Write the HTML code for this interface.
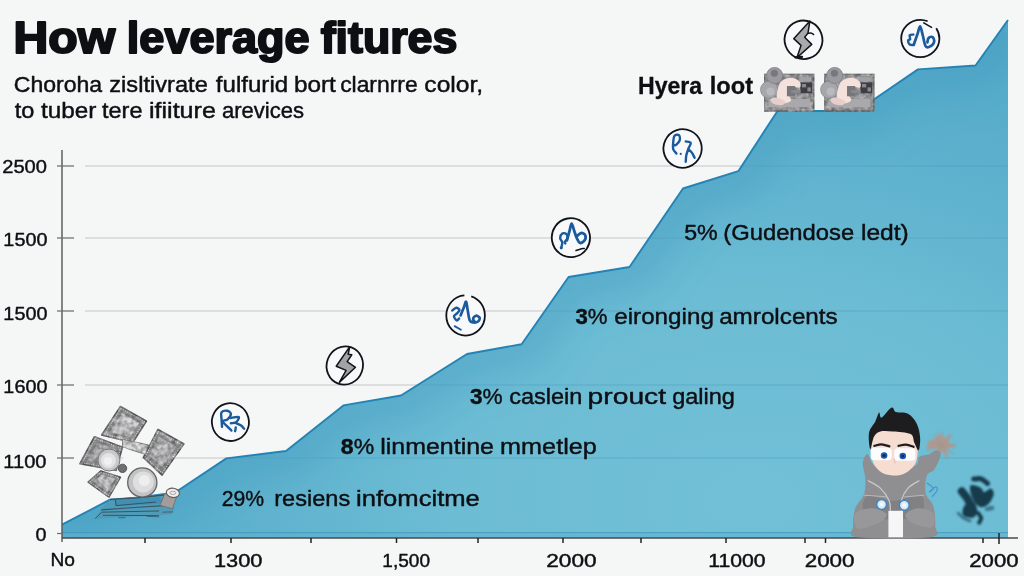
<!DOCTYPE html>
<html lang="en">
<head>
<meta charset="utf-8">
<title>How leverage fitures</title>
<style>
html,body{margin:0;padding:0;background:#f5f6f6;}
body{width:1024px;height:576px;overflow:hidden;font-family:"Liberation Sans", sans-serif;}
svg{display:block;font-family:"Liberation Sans", sans-serif;}
</style>
</head>
<body>
<svg width="1024" height="576" viewBox="0 0 1024 576">
<defs>
<radialGradient id="ga" gradientUnits="userSpaceOnUse" cx="750" cy="500" r="750" gradientTransform="translate(750 500) scale(1 0.693) translate(-750 -500)">
<stop offset="0" stop-color="#71c0d7"/>
<stop offset="0.4" stop-color="#6cbcd4"/>
<stop offset="0.7" stop-color="#5db1cd"/>
<stop offset="0.95" stop-color="#54aac9"/>
</radialGradient>
<clipPath id="ca"><path d="M62,524.7 L110,499.7 L140,497.5 L168,493.5 L178.5,490.2 L226.4,458.4 L286,451 L343.4,405.4 L401,395.5 L467,354 L521.6,344.2 L568.6,277 L629.5,267 L683,188.5 L738.3,171.2 L777.5,111 L857,111 L918,69.4 L975.5,65.5 L1008,20 L1008,538 L62,538 Z"/></clipPath>
<filter id="bl" x="-20%" y="-20%" width="140%" height="140%"><feGaussianBlur stdDeviation="18"/></filter>
<filter id="tx" x="-5%" y="-5%" width="110%" height="110%" color-interpolation-filters="sRGB">
<feTurbulence type="fractalNoise" baseFrequency="0.22" numOctaves="2" seed="7" result="n"/>
<feColorMatrix in="n" type="matrix" values="0 0 0 0 0  0 0 0 0 0  0 0 0 0 0  1.6 0 0 0 -0.45" result="a"/>
<feFlood flood-color="#ffffff" flood-opacity="0.55" result="w"/>
<feComposite in="w" in2="a" operator="in" result="wa"/>
<feComposite in="wa" in2="SourceGraphic" operator="in" result="hl"/>
<feColorMatrix in="n" type="matrix" values="0 0 0 0 0  0 0 0 0 0  0 0 0 0 0  0 1.8 0 0 -0.6" result="d"/>
<feFlood flood-color="#3a3a3c" flood-opacity="0.5" result="k"/>
<feComposite in="k" in2="d" operator="in" result="kd"/>
<feComposite in="kd" in2="SourceGraphic" operator="in" result="sh"/>
<feMerge><feMergeNode in="SourceGraphic"/><feMergeNode in="hl"/><feMergeNode in="sh"/></feMerge>
</filter>
<filter id="b2" x="-30%" y="-30%" width="160%" height="160%"><feGaussianBlur stdDeviation="1.1"/></filter>
<filter id="b3" x="-30%" y="-30%" width="160%" height="160%"><feGaussianBlur stdDeviation="0.85"/></filter>
<filter id="b1" x="-20%" y="-20%" width="140%" height="140%"><feGaussianBlur stdDeviation="0.6"/></filter>
</defs>
<rect width="1024" height="576" fill="#f5f6f6"/>

<line x1="85" y1="166" x2="1008" y2="166" stroke="#c6c6c7" stroke-width="1.1"/>
<line x1="85" y1="238" x2="1008" y2="238" stroke="#c6c6c7" stroke-width="1.1"/>
<line x1="85" y1="311" x2="1008" y2="311" stroke="#c6c6c7" stroke-width="1.1"/>
<line x1="85" y1="385" x2="1008" y2="385" stroke="#c6c6c7" stroke-width="1.1"/>
<line x1="85" y1="458" x2="1008" y2="458" stroke="#c6c6c7" stroke-width="1.1"/>
<path d="M62,524.7 L110,499.7 L140,497.5 L168,493.5 L178.5,490.2 L226.4,458.4 L286,451 L343.4,405.4 L401,395.5 L467,354 L521.6,344.2 L568.6,277 L629.5,267 L683,188.5 L738.3,171.2 L777.5,111 L857,111 L918,69.4 L975.5,65.5 L1008,20 L1008,538 L62,538 Z" fill="url(#ga)"/>
<g clip-path="url(#ca)"><path d="M62,524.7 L110,499.7 L140,497.5 L168,493.5 L178.5,490.2 L226.4,458.4 L286,451 L343.4,405.4 L401,395.5 L467,354 L521.6,344.2 L568.6,277 L629.5,267 L683,188.5 L738.3,171.2 L777.5,111 L857,111 L918,69.4 L975.5,65.5 L1008,20" fill="none" stroke="#3a93bb" stroke-width="56" stroke-opacity="0.3" filter="url(#bl)"/>
<line x1="85" y1="166" x2="1008" y2="166" stroke="#4d9fc0" stroke-opacity="0.55" stroke-width="1.2"/>
<line x1="85" y1="238" x2="1008" y2="238" stroke="#4d9fc0" stroke-opacity="0.55" stroke-width="1.2"/>
<line x1="85" y1="311" x2="1008" y2="311" stroke="#4d9fc0" stroke-opacity="0.55" stroke-width="1.2"/>
<line x1="85" y1="385" x2="1008" y2="385" stroke="#4d9fc0" stroke-opacity="0.55" stroke-width="1.2"/>
<line x1="85" y1="458" x2="1008" y2="458" stroke="#4d9fc0" stroke-opacity="0.55" stroke-width="1.2"/>
<line x1="62" y1="532.6" x2="1008" y2="532.6" stroke="#3f95b8" stroke-opacity="0.7" stroke-width="1.2"/>
<rect x="62" y="533.2" width="946" height="4.8" fill="#5eb1cf" opacity="0.5"/>
</g>
<path d="M62,524.7 L110,499.7 L140,497.5 L168,493.5 L178.5,490.2 L226.4,458.4 L286,451 L343.4,405.4 L401,395.5 L467,354 L521.6,344.2 L568.6,277 L629.5,267 L683,188.5 L738.3,171.2 L777.5,111 L857,111 L918,69.4 L975.5,65.5 L1008,20" fill="none" stroke="#2483b5" stroke-width="1.9" stroke-linejoin="round"/>
<line x1="62" y1="150" x2="62" y2="542" stroke="#555557" stroke-width="1.4"/>
<line x1="62" y1="538" x2="1018" y2="538" stroke="#4a4a4c" stroke-width="1.6"/>
<line x1="57" y1="166" x2="74" y2="166" stroke="#6a6a6c" stroke-width="1.2"/>
<line x1="57" y1="238" x2="74" y2="238" stroke="#6a6a6c" stroke-width="1.2"/>
<line x1="57" y1="311" x2="74" y2="311" stroke="#6a6a6c" stroke-width="1.2"/>
<line x1="57" y1="385" x2="74" y2="385" stroke="#6a6a6c" stroke-width="1.2"/>
<line x1="57" y1="458" x2="74" y2="458" stroke="#6a6a6c" stroke-width="1.2"/>
<line x1="57" y1="533.5" x2="62" y2="533.5" stroke="#6a6a6c" stroke-width="1.2"/>
<line x1="145" y1="538" x2="145" y2="543" stroke="#232325" stroke-width="1.5"/>
<line x1="231" y1="538" x2="231" y2="543" stroke="#232325" stroke-width="1.5"/>
<line x1="311" y1="538" x2="311" y2="543" stroke="#232325" stroke-width="1.5"/>
<line x1="396.5" y1="538" x2="396.5" y2="543" stroke="#232325" stroke-width="1.5"/>
<line x1="478" y1="538" x2="478" y2="543" stroke="#232325" stroke-width="1.5"/>
<line x1="563" y1="538" x2="563" y2="543" stroke="#232325" stroke-width="1.5"/>
<line x1="641" y1="538" x2="641" y2="543" stroke="#232325" stroke-width="1.5"/>
<line x1="726" y1="538" x2="726" y2="543" stroke="#232325" stroke-width="1.5"/>
<line x1="805" y1="538" x2="805" y2="543" stroke="#232325" stroke-width="1.5"/>
<line x1="825.5" y1="538" x2="825.5" y2="543" stroke="#232325" stroke-width="1.5"/>
<line x1="983" y1="538" x2="983" y2="543" stroke="#232325" stroke-width="1.5"/>
<line x1="999" y1="533" x2="999" y2="544" stroke="#232325" stroke-width="1.5"/>
<text y="52.7" font-size="43.5" font-weight="bold" fill="#0d0f13" stroke="#0d0f13" stroke-width="2.0" stroke-linejoin="round"><tspan x="13.57" textLength="101.66" lengthAdjust="spacingAndGlyphs">How</tspan> <tspan x="126.82" textLength="182.84" lengthAdjust="spacingAndGlyphs">leverage</tspan> <tspan x="320.7" textLength="136.68" lengthAdjust="spacingAndGlyphs">fitures</tspan></text>
<text y="92" font-size="21.6" font-weight="normal" fill="#0d0f13" stroke="#0d0f13" stroke-width="0.42" stroke-linejoin="round"><tspan x="13.77" textLength="88.44" lengthAdjust="spacingAndGlyphs">Choroha</tspan> <tspan x="109.3" textLength="98.48" lengthAdjust="spacingAndGlyphs">zisltivrate</tspan> <tspan x="215.89" textLength="72.25" lengthAdjust="spacingAndGlyphs">fulfurid</tspan> <tspan x="293.93" textLength="41.96" lengthAdjust="spacingAndGlyphs">bort</tspan> <tspan x="340.16" textLength="77.47" lengthAdjust="spacingAndGlyphs">clarnrre</tspan> <tspan x="424.35" textLength="58.81" lengthAdjust="spacingAndGlyphs">color,</tspan></text>
<text y="118" font-size="21.6" font-weight="normal" fill="#0d0f13" stroke="#0d0f13" stroke-width="0.42" stroke-linejoin="round"><tspan x="14.74" textLength="19.63" lengthAdjust="spacingAndGlyphs">to</tspan> <tspan x="41.0" textLength="55.4" lengthAdjust="spacingAndGlyphs">tuber</tspan> <tspan x="102.0" textLength="40.5" lengthAdjust="spacingAndGlyphs">tere</tspan> <tspan x="149.0" textLength="66.83" lengthAdjust="spacingAndGlyphs">ifiiture</tspan> <tspan x="221.91" textLength="82.18" lengthAdjust="spacingAndGlyphs">arevices</tspan></text>
<text y="93.75" font-size="23.6" font-weight="bold" fill="#0d0f13" stroke="#0d0f13" stroke-width="0.3" stroke-linejoin="round"><tspan x="638.04" textLength="64.17" lengthAdjust="spacingAndGlyphs">Hyera</tspan> <tspan x="709.82" textLength="43.19" lengthAdjust="spacingAndGlyphs">loot</tspan></text>
<text y="239.5" font-size="22.6" font-weight="normal" fill="#0d0f13" stroke="#0d0f13" stroke-width="0.42" stroke-linejoin="round"><tspan x="684.15" textLength="33.54" lengthAdjust="spacingAndGlyphs">5%</tspan> <tspan x="723.22" textLength="131.01" lengthAdjust="spacingAndGlyphs">(Gudendose</tspan> <tspan x="860.95" textLength="47.88" lengthAdjust="spacingAndGlyphs">ledt)</tspan></text>
<text y="324.3" font-size="22.6" font-weight="normal" fill="#0d0f13" stroke="#0d0f13" stroke-width="0.42" stroke-linejoin="round"><tspan x="575.5" textLength="32.07" lengthAdjust="spacingAndGlyphs"><tspan font-weight="bold">3</tspan>%</tspan> <tspan x="614.26" textLength="99.62" lengthAdjust="spacingAndGlyphs">eironging</tspan> <tspan x="719.15" textLength="118.56" lengthAdjust="spacingAndGlyphs">amrolcents</tspan></text>
<text y="403.75" font-size="22.6" font-weight="normal" fill="#0d0f13" stroke="#0d0f13" stroke-width="0.42" stroke-linejoin="round"><tspan x="470.0" textLength="32.67" lengthAdjust="spacingAndGlyphs"><tspan font-weight="bold">3</tspan>%</tspan> <tspan x="509.16" textLength="73.3" lengthAdjust="spacingAndGlyphs">caslein</tspan> <tspan x="587.64" textLength="78.41" lengthAdjust="spacingAndGlyphs">prouct</tspan> <tspan x="672.16" textLength="62.71" lengthAdjust="spacingAndGlyphs">galing</tspan></text>
<text y="453.75" font-size="22.6" font-weight="normal" fill="#0d0f13" stroke="#0d0f13" stroke-width="0.42" stroke-linejoin="round"><tspan x="340.87" textLength="33.34" lengthAdjust="spacingAndGlyphs"><tspan font-weight="bold">8</tspan>%</tspan> <tspan x="380.24" textLength="113.76" lengthAdjust="spacingAndGlyphs">linmentine</tspan> <tspan x="500.14" textLength="96.66" lengthAdjust="spacingAndGlyphs">mmetlep</tspan></text>
<text y="505.5" font-size="22.6" font-weight="normal" fill="#0d0f13" stroke="#0d0f13" stroke-width="0.42" stroke-linejoin="round"><tspan x="221.73" textLength="42.4" lengthAdjust="spacingAndGlyphs">29%</tspan> <tspan x="274.26" textLength="75.99" lengthAdjust="spacingAndGlyphs">resiens</tspan> <tspan x="356.06" textLength="123.83" lengthAdjust="spacingAndGlyphs">infomcitme</tspan></text>
<text y="173.3" font-size="18.6" font-weight="normal" fill="#0d0f13" stroke="#0d0f13" stroke-width="0.42" stroke-linejoin="round"><tspan x="2.23" textLength="44.78" lengthAdjust="spacingAndGlyphs">2500</tspan></text>
<text y="246.4" font-size="18.6" font-weight="normal" fill="#0d0f13" stroke="#0d0f13" stroke-width="0.42" stroke-linejoin="round"><tspan x="3.39" textLength="44.02" lengthAdjust="spacingAndGlyphs">1500</tspan></text>
<text y="319.8" font-size="18.6" font-weight="normal" fill="#0d0f13" stroke="#0d0f13" stroke-width="0.42" stroke-linejoin="round"><tspan x="3.39" textLength="44.02" lengthAdjust="spacingAndGlyphs">1500</tspan></text>
<text y="392.7" font-size="18.6" font-weight="normal" fill="#0d0f13" stroke="#0d0f13" stroke-width="0.42" stroke-linejoin="round"><tspan x="3.39" textLength="44.02" lengthAdjust="spacingAndGlyphs">1600</tspan></text>
<text y="467.6" font-size="18.6" font-weight="normal" fill="#0d0f13" stroke="#0d0f13" stroke-width="0.42" stroke-linejoin="round"><tspan x="3.32" textLength="43.16" lengthAdjust="spacingAndGlyphs">1100</tspan></text>
<text y="540.7" font-size="18.6" font-weight="normal" fill="#0d0f13" stroke="#0d0f13" stroke-width="0.42" stroke-linejoin="round"><tspan x="35.52" textLength="10.98" lengthAdjust="spacingAndGlyphs">0</tspan></text>
<text y="566.2" font-size="18" font-weight="normal" fill="#0d0f13" stroke="#0d0f13" stroke-width="0.42" stroke-linejoin="round"><tspan x="50.53" textLength="24.51" lengthAdjust="spacingAndGlyphs">No</tspan></text>
<text y="566.5" font-size="18" font-weight="normal" fill="#0d0f13" stroke="#0d0f13" stroke-width="0.42" stroke-linejoin="round"><tspan x="213.97" textLength="48.54" lengthAdjust="spacingAndGlyphs">1300</tspan> <tspan x="382.38" textLength="47.62" lengthAdjust="spacingAndGlyphs">1,500</tspan> <tspan x="546.25" textLength="50.34" lengthAdjust="spacingAndGlyphs">2000</tspan> <tspan x="708.19" textLength="57.35" lengthAdjust="spacingAndGlyphs">11000</tspan> <tspan x="804.71" textLength="49.81" lengthAdjust="spacingAndGlyphs">2000</tspan> <tspan x="969.28" textLength="49.28" lengthAdjust="spacingAndGlyphs">2000</tspan></text>
<ellipse cx="230.4" cy="422.1" rx="18.5" ry="18.9" fill="#f8f9fa" stroke="#11141b" stroke-width="1.8" transform="rotate(-15 230.4 422.1)"/>
<path d="M222.04,426.9 C221.95,425.60 221.61,421.51 221.52,419.08 C221.43,416.65 220.56,413.70 221.52,412.31 C222.48,410.92 225.69,410.49 227.25,410.75 C228.81,411.01 230.90,412.40 230.90,413.88 C230.90,415.36 228.64,418.38 227.25,419.60 C225.86,420.82 222.56,420.04 222.56,421.17 C222.56,422.30 225.77,424.82 227.25,426.38 C228.73,427.94 230.72,429.85 231.42,430.54" fill="none" stroke="#1b5a9c" stroke-width="2.4" stroke-linecap="round" stroke-linejoin="round"/>
<path d="M230.38,418.04 C231.77,417.87 237.76,416.31 238.71,417.00 C239.66,417.69 237.40,421.17 236.10,422.21 C234.80,423.25 231.77,423.08 230.90,423.25 M236.1,423.25 C236.88,423.60 239.45,424.43 240.79,425.33 C242.13,426.23 243.56,428.11 244.12,428.67 M235.79,427.42 L235.17,431.17" fill="none" stroke="#1b5a9c" stroke-width="2.4" stroke-linecap="round" stroke-linejoin="round"/>
<ellipse cx="344.8" cy="365.5" rx="18.1" ry="19.3" fill="#f8f9fa" stroke="#11141b" stroke-width="1.8" transform="rotate(20 344.8 365.5)"/>
<path d="M349.75,346.67 L336.21,366.25 L346.1,370.42 L339.33,382.4 L355.48,367.29 L347.15,361.56 L351.83,354.79 L348.19,354.27 Z" fill="#a3a3a5" stroke="#11141b" stroke-width="1.5" stroke-linecap="round" stroke-linejoin="round"/>
<ellipse cx="465.6" cy="315.5" rx="19.3" ry="20.1" fill="#f8f9fa" stroke="#11141b" stroke-width="1.8" stroke-dasharray="91 7 40 0"/>
<path d="M452.25,310.52 C452.91,310.05 455.00,307.80 456.21,307.71 C457.42,307.62 459.45,309.01 459.54,310.00 C459.63,310.99 457.67,312.61 456.73,313.65 C455.79,314.69 453.92,315.12 453.92,316.25 C453.92,317.38 455.86,320.04 456.73,320.42 C457.60,320.80 458.72,318.85 459.12,318.54" fill="none" stroke="#1b5a9c" stroke-width="2.4" stroke-linecap="round" stroke-linejoin="round"/>
<path d="M460.58,315.42 C461.15,314.00 463.10,309.17 464.02,306.88 C464.94,304.59 465.49,301.15 466.10,301.67 C466.71,302.19 467.06,306.88 467.67,310.00 C468.28,313.12 468.80,318.34 469.75,320.42 C470.70,322.50 472.01,322.33 473.40,322.50 C474.79,322.67 477.04,322.24 478.08,321.46 C479.12,320.68 480.00,318.76 479.65,317.81 C479.30,316.86 477.10,315.56 476.00,315.73 C474.90,315.90 473.25,317.81 473.08,318.85 C472.91,319.89 474.65,321.46 474.96,321.98" fill="none" stroke="#1b5a9c" stroke-width="2.7" stroke-linecap="round" stroke-linejoin="round"/>
<path d="M454.65,326.15 L460.9,329.79" fill="none" stroke="#1b5a9c" stroke-width="1.8" stroke-linecap="round" stroke-linejoin="round"/>
<ellipse cx="570.9" cy="237.7" rx="19.1" ry="19.5" fill="#f8f9fa" stroke="#11141b" stroke-width="1.8" transform="rotate(-10 570.9 237.7)"/>
<path d="M561.21,248.15 C561.38,247.19 562.42,244.07 562.25,242.42 C562.08,240.77 560.17,239.73 560.17,238.25 C560.17,236.77 561.21,234.25 562.25,233.56 C563.29,232.87 565.55,233.30 566.42,234.08 C567.29,234.86 567.72,236.95 567.46,238.25 C567.20,239.55 565.20,241.03 564.85,241.90 C564.50,242.77 565.29,243.20 565.38,243.46" fill="none" stroke="#1b5a9c" stroke-width="2.4" stroke-linecap="round" stroke-linejoin="round"/>
<path d="M566.94,240.33 C567.37,238.77 568.76,233.74 569.54,230.96 C570.32,228.18 570.84,223.67 571.62,223.67 C572.40,223.67 573.36,228.53 574.23,230.96 C575.10,233.39 575.88,236.25 576.83,238.25 C577.79,240.25 578.66,242.59 579.96,242.94 C581.26,243.29 583.78,241.63 584.65,240.33 C585.52,239.03 585.78,236.34 585.17,235.12 C584.56,233.91 582.39,232.87 581.00,233.04 C579.61,233.21 577.53,235.65 576.83,236.17" fill="none" stroke="#1b5a9c" stroke-width="2.8" stroke-linecap="round" stroke-linejoin="round"/>
<circle cx="561.21" cy="247.83" r="1.5" fill="#1b5a9c"/>
<path d="M576,250.54 C576.66,250.31 578.57,249.54 579.96,249.19 C581.35,248.84 583.60,248.58 584.33,248.46" fill="none" stroke="#11141b" stroke-width="1.5" stroke-linecap="round" stroke-linejoin="round"/>
<ellipse cx="682.6" cy="148.5" rx="19.1" ry="19.3" fill="#f8f9fa" stroke="#11141b" stroke-width="1.8" transform="rotate(25 682.6 148.5)"/>
<path d="M676.38,153.42 C675.86,152.72 673.77,151.16 673.25,149.25 C672.73,147.34 673.04,144.22 673.25,141.96 C673.46,139.70 673.54,136.84 674.50,135.71 C675.46,134.58 678.11,134.41 678.98,135.19 C679.85,135.97 680.14,138.84 679.71,140.40 C679.28,141.96 677.28,143.75 676.38,144.56 C675.48,145.38 674.64,145.17 674.29,145.29" fill="none" stroke="#1b5a9c" stroke-width="2.4" stroke-linecap="round" stroke-linejoin="round"/>
<path d="M685.75,141.44 C686.58,141.66 690.32,141.57 690.75,142.79 C691.18,144.00 689.10,146.61 688.35,148.73 C687.60,150.85 686.70,153.33 686.27,155.50 C685.84,157.67 685.84,160.71 685.75,161.75 M688.35,149.25 C688.96,149.86 690.96,151.48 692.00,152.90 C693.04,154.32 694.17,156.97 694.60,157.79" fill="none" stroke="#1b5a9c" stroke-width="2.4" stroke-linecap="round" stroke-linejoin="round"/>
<circle cx="680.75" cy="153.94" r="1.1" fill="#1b5a9c"/>
<ellipse cx="803.5" cy="39.8" rx="18.9" ry="19.3" fill="#f8f9fa" stroke="#11141b" stroke-width="1.8" transform="rotate(-20 803.5 39.8)"/>
<path d="M809.88,20.94 L793.73,38.65 L801.02,45.42 L796.85,57.71 L811.75,44.38 L804.67,37.29 L808,33.12 Z" fill="#a9a9ab" stroke="#11141b" stroke-width="1.5" stroke-linecap="round" stroke-linejoin="round"/>
<path d="M807.79,33.44 C808.31,33.35 809.95,32.73 810.92,32.92 C811.89,33.11 813.17,34.30 813.62,34.58" fill="none" stroke="#11141b" stroke-width="1.5" stroke-linecap="round" stroke-linejoin="round"/>
<path d="M795.29,57.4 L802.06,56.88" fill="none" stroke="#11141b" stroke-width="2.2" stroke-linecap="round" stroke-linejoin="round"/>
<ellipse cx="920.3" cy="38.5" rx="19.1" ry="18.7" fill="#f8f9fa" stroke="#11141b" stroke-width="1.8" stroke-dasharray="96 11 30 0"/>
<path d="M923.75,22.79 L931.56,27.38" fill="none" stroke="#11141b" stroke-width="1.5" stroke-linecap="round" stroke-linejoin="round"/>
<path d="M913.33,34.56 C912.72,34.68 910.21,34.51 909.69,35.29 C909.17,36.07 910.47,38.42 910.21,39.25 C909.95,40.08 908.21,39.42 908.12,40.29 C908.03,41.16 908.74,43.68 909.69,44.46 C910.65,45.24 913.16,44.89 913.85,44.98" fill="none" stroke="#1b5a9c" stroke-width="2.4" stroke-linecap="round" stroke-linejoin="round"/>
<path d="M913.85,44.46 C914.46,42.72 916.46,37.08 917.50,34.04 C918.54,31.00 919.23,26.06 920.10,26.23 C920.97,26.40 921.75,31.70 922.71,35.08 C923.67,38.46 924.44,44.72 925.83,46.54 C927.22,48.36 929.65,46.80 931.04,46.02 C932.43,45.24 933.91,43.33 934.17,41.85 C934.43,40.38 933.56,37.78 932.60,37.17 C931.64,36.56 929.31,37.34 928.44,38.21 C927.57,39.08 927.57,41.69 927.40,42.38" fill="none" stroke="#1b5a9c" stroke-width="2.7" stroke-linecap="round" stroke-linejoin="round"/>
<g filter="url(#tx)"><rect x="764.77" y="74.41" width="48.94" height="36.64" fill="#8e8e91" rx="0" stroke="#66666a" stroke-width="1.4"/></g>
<rect x="768.46" y="99.02" width="41.7" height="8.2" fill="#a9a9ad" rx="0"/>
<rect x="799.22" y="77.14" width="12.31" height="4.1" fill="#a2a2a6" rx="0"/>
<rect x="800.31" y="82.34" width="11.9" height="10.93" fill="#3e3e42" rx="0"/>
<rect x="801.96" y="83.98" width="4.1" height="3.42" fill="#8a8a8e" rx="0"/>
<rect x="807.42" y="87.4" width="3.42" height="4.1" fill="#8a8a8e" rx="0"/>
<circle cx="769.14" cy="89.72" r="8.61" fill="#a6a6ab" stroke="#8a8a8e" stroke-width="0.8"/>
<circle cx="774.61" cy="75.5" r="8.07" fill="#9a9aa0" stroke="#7e7e83" stroke-width="0.8"/>
<circle cx="774.34" cy="73.31" r="3.55" fill="#77777d"/>
<circle cx="770.51" cy="91.5" r="4.1" fill="#b9b9bd"/>
<path d="M777.34,90.81 C778.03,87.85 779.17,83.41 781.45,81.24 C783.73,79.07 788.06,77.82 791.02,77.82 C793.98,77.82 797.74,79.64 799.22,81.24 C800.70,82.84 801.27,86.37 799.90,87.40 C798.53,88.43 792.84,86.15 791.02,87.40 C789.20,88.65 788.97,92.76 788.97,94.92 C788.97,97.08 791.82,99.01 791.02,100.38 C790.22,101.75 786.46,103.35 784.18,103.12 C781.90,102.89 778.48,101.07 777.34,99.02 C776.20,96.97 776.65,93.77 777.34,90.81 Z" fill="#f5e1db"/>
<path d="M770.51,99.02 C771.19,98.00 774.83,97.20 777.34,97.65 C779.85,98.11 784.87,100.50 785.55,101.75 C786.23,103.00 783.50,104.83 781.45,105.17 C779.40,105.51 775.06,104.83 773.24,103.80 C771.42,102.77 769.83,100.04 770.51,99.02 Z" fill="#e6cfcb"/>
<rect x="786.92" y="86.03" width="8.2" height="10.25" fill="#77777b" rx="0"/>
<rect x="791.02" y="90.13" width="9.57" height="2.73" fill="#8a8a8e" rx="0"/>
<g filter="url(#tx)"><rect x="824.87" y="74.41" width="48.94" height="36.64" fill="#8e8e91" rx="0" stroke="#66666a" stroke-width="1.4"/></g>
<rect x="828.56" y="99.02" width="41.7" height="8.2" fill="#a9a9ad" rx="0"/>
<rect x="859.32" y="77.14" width="12.31" height="4.1" fill="#a2a2a6" rx="0"/>
<rect x="860.41" y="82.34" width="11.9" height="10.93" fill="#3e3e42" rx="0"/>
<rect x="862.06" y="83.98" width="4.1" height="3.42" fill="#8a8a8e" rx="0"/>
<rect x="867.52" y="87.4" width="3.42" height="4.1" fill="#8a8a8e" rx="0"/>
<circle cx="829.24" cy="89.72" r="8.61" fill="#a6a6ab" stroke="#8a8a8e" stroke-width="0.8"/>
<circle cx="834.71" cy="75.5" r="8.07" fill="#9a9aa0" stroke="#7e7e83" stroke-width="0.8"/>
<circle cx="834.44" cy="73.31" r="3.55" fill="#77777d"/>
<circle cx="830.61" cy="91.5" r="4.1" fill="#b9b9bd"/>
<path d="M837.44,90.81 C838.12,87.85 839.27,83.41 841.55,81.24 C843.83,79.07 848.16,77.82 851.12,77.82 C854.08,77.82 857.84,79.64 859.32,81.24 C860.80,82.84 861.37,86.37 860.00,87.40 C858.63,88.43 852.94,86.15 851.12,87.40 C849.30,88.65 849.07,92.76 849.07,94.92 C849.07,97.08 851.92,99.01 851.12,100.38 C850.32,101.75 846.56,103.35 844.28,103.12 C842.00,102.89 838.58,101.07 837.44,99.02 C836.30,96.97 836.76,93.77 837.44,90.81 Z" fill="#f5e1db"/>
<path d="M830.61,99.02 C831.29,98.00 834.93,97.20 837.44,97.65 C839.95,98.11 844.97,100.50 845.65,101.75 C846.33,103.00 843.60,104.83 841.55,105.17 C839.50,105.51 835.16,104.83 833.34,103.80 C831.52,102.77 829.93,100.04 830.61,99.02 Z" fill="#e6cfcb"/>
<rect x="847.02" y="86.03" width="8.2" height="10.25" fill="#77777b" rx="0"/>
<rect x="851.12" y="90.13" width="9.57" height="2.73" fill="#8a8a8e" rx="0"/>
<path d="M109.91,499.69 L165.38,493.44 L174.75,507.5 L171.62,514.53 L95.06,518.75 L101.31,509.06 Z" fill="#4f97b3" opacity="0.75"/>
<path d="M115.38,500.47 L159.12,496.88 L163.81,503.59 L116.94,506.25 Z" fill="#3f8fb4" opacity="0.9"/>
<path d="M109.91,499.38 L137.25,497.81 L163.81,495" stroke="#2e4650" stroke-width="1.3" fill="none" opacity="0.8" stroke-linejoin="round"/>
<path d="M115.38,500 L116.16,505.62" stroke="#2e4650" stroke-width="1.2" fill="none" opacity="0.8" stroke-linejoin="round"/>
<path d="M116.16,505.62 L143.5,503.12 L156,502.03" stroke="#2e4650" stroke-width="1.0" fill="none" opacity="0.8" stroke-linejoin="round"/>
<path d="M101.31,509.84 L134.12,507.5 L163.81,505.62" stroke="#2e4650" stroke-width="1.2" fill="none" opacity="0.8" stroke-linejoin="round"/>
<path d="M95.06,518.75 L101.62,512.19 L159.12,510.94" stroke="#2e4650" stroke-width="1.0" fill="none" opacity="0.8" stroke-linejoin="round"/>
<path d="M102.88,515.31 L159.12,515.62" stroke="#2e4650" stroke-width="1.0" fill="none" opacity="0.8" stroke-linejoin="round"/>
<path d="M118.5,517.66 L125.53,517.66" stroke="#2e4650" stroke-width="0.8" fill="none" opacity="0.8" stroke-linejoin="round"/>
<path d="M146.62,516.25 L159.12,516.88" stroke="#2e4650" stroke-width="0.8" fill="none" opacity="0.8" stroke-linejoin="round"/>
<path d="M162.25,512.19 L173.19,511.88" stroke="#2e4650" stroke-width="0.8" fill="none" opacity="0.8" stroke-linejoin="round"/>
<g filter="url(#tx)">
<path d="M100.62,471.04 L120.42,477.29 L108.96,497.08 L88.12,482.08 Z" fill="#7f7f81" stroke="#4e4e50" stroke-width="1.4" stroke-linejoin="round"/><path d="M101.02,472.12 L118.83,477.75 L108.52,495.56 L89.77,482.06 Z" fill="none" stroke="#d8d8d9" stroke-width="1.1" stroke-dasharray="1.1 1.3" stroke-linejoin="round"/><path d="M101.88,474.51 L115.33,478.76 L107.54,492.22 L93.38,482.02 Z" fill="#b9b9bb" stroke="#7d7d7f" stroke-width="0.6"/>
<path d="M94.38,436.67 L122.5,447.08 L116.25,470.42 L79.79,463.75 Z" fill="#7b7b7d" stroke="#4e4e50" stroke-width="1.4" stroke-linejoin="round"/><path d="M95.26,438.45 L120.57,447.82 L114.95,468.82 L82.14,462.82 Z" fill="none" stroke="#d8d8d9" stroke-width="1.1" stroke-dasharray="1.1 1.3" stroke-linejoin="round"/><path d="M97.21,442.37 L116.33,449.45 L112.08,465.32 L87.29,460.78 Z" fill="#a2a2a4" stroke="#7d7d7f" stroke-width="0.6"/>
<path d="M120.42,406.46 L146.46,421.04 L132.92,442.5 L101.67,435 Z" fill="#838385" stroke="#4e4e50" stroke-width="1.4" stroke-linejoin="round"/><path d="M120.91,408.44 L144.35,421.56 L132.16,440.88 L104.04,434.12 Z" fill="none" stroke="#d8d8d9" stroke-width="1.1" stroke-dasharray="1.1 1.3" stroke-linejoin="round"/><path d="M122,412.79 L139.71,422.71 L130.5,437.3 L109.25,432.2 Z" fill="#c3c3c5" stroke="#7d7d7f" stroke-width="0.6"/>
<path d="M157.92,429.38 L183.96,443.96 L162.08,475.21 L143.33,457.5 Z" fill="#7d7d7f" stroke="#4e4e50" stroke-width="1.4" stroke-linejoin="round"/><path d="M158.31,431.59 L181.74,444.71 L162.06,472.84 L145.18,456.9 Z" fill="none" stroke="#d8d8d9" stroke-width="1.1" stroke-dasharray="1.1 1.3" stroke-linejoin="round"/><path d="M159.17,436.46 L176.88,446.38 L162,467.62 L149.25,455.58 Z" fill="#b2b2b4" stroke="#7d7d7f" stroke-width="0.6"/>
<path d="M122.5,439.17 L148.54,445 L145.42,454.38 L122.5,447.08 Z" fill="#cfcfd0" stroke="#6f6f71" stroke-width="0.9"/>
</g>
<path d="M123.54,447.5 L142.29,455.83 L140.21,464.79 L123.54,461.25 Z" fill="#f5f6f6"/>
<circle cx="108.96" cy="460.0" r="11" fill="#c9c9cb" stroke="#7a7a7c" stroke-width="1"/>
<circle cx="108.46" cy="460.5" r="7.5" fill="#e4e4e5"/>
<circle cx="107.96" cy="461.0" r="4" fill="#f1f1f2"/>
<circle cx="142.29" cy="482.5" r="14.6" fill="#c3c3c5" stroke="#626264" stroke-width="1.3"/>
<circle cx="143.29" cy="482.0" r="10.5" fill="#dededf"/>
<circle cx="144.29" cy="480.5" r="5.5" fill="#eeeeef"/>
<circle cx="122.5" cy="468.33" r="4.2" fill="#6f6f71" stroke="#444" stroke-width="0.8"/>
<path d="M165.06,493.44 L177.09,495.31 L172.41,508.75 L159.91,505.31 Z" fill="#a39c9c" stroke="#6f6a6a" stroke-width="0.8" stroke-linejoin="round"/>
<ellipse cx="172.88" cy="492.81" rx="6.6" ry="4.6" fill="#ededee" stroke="#5f5a5a" stroke-width="1.1" transform="rotate(8 172.88 492.81)"/>
<ellipse cx="172.88" cy="492.81" rx="3" ry="1.6" fill="none" stroke="#8a8a8c" stroke-width="0.7"/>
<g opacity="0.8" filter="url(#b2)"><path d="M930.7,440.28 C932.38,438.60 935.66,439.10 937.00,437.76 C938.34,436.42 937.71,432.23 938.76,432.23 C939.81,432.23 941.27,437.47 943.29,437.76 C945.30,438.05 950.01,433.36 950.85,433.99 C951.69,434.62 947.49,439.44 948.33,441.54 C949.17,443.64 956.09,445.32 955.88,446.58 C955.67,447.84 948.33,447.20 947.07,449.09 C945.81,450.98 949.17,457.49 948.33,457.91 C947.49,458.33 944.13,451.82 942.03,451.61 C939.93,451.40 936.58,457.07 935.74,456.65 C934.90,456.23 938.47,450.56 937.00,449.09 C935.53,447.62 927.98,449.30 926.93,447.83 C925.88,446.36 929.02,441.96 930.70,440.28 Z" fill="#bf917f"/><line x1="941.53" y1="446.07" x2="928.5" y2="441.1" stroke="#b58c7d" stroke-width="1.1" stroke-linecap="round"/><line x1="941.53" y1="446.07" x2="934.5" y2="434.1" stroke="#b58c7d" stroke-width="1.1" stroke-linecap="round"/><line x1="941.53" y1="446.07" x2="942.5" y2="432.1" stroke="#b58c7d" stroke-width="1.1" stroke-linecap="round"/><line x1="941.53" y1="446.07" x2="951.5" y2="436.1" stroke="#b58c7d" stroke-width="1.1" stroke-linecap="round"/><line x1="941.53" y1="446.07" x2="955.5" y2="444.1" stroke="#b58c7d" stroke-width="1.1" stroke-linecap="round"/><line x1="941.53" y1="446.07" x2="953.5" y2="454.1" stroke="#b58c7d" stroke-width="1.1" stroke-linecap="round"/><line x1="941.53" y1="446.07" x2="946.5" y2="458.1" stroke="#b58c7d" stroke-width="1.1" stroke-linecap="round"/><line x1="941.53" y1="446.07" x2="936.5" y2="456.1" stroke="#b58c7d" stroke-width="1.1" stroke-linecap="round"/><line x1="941.53" y1="446.07" x2="927.5" y2="450.1" stroke="#b58c7d" stroke-width="1.1" stroke-linecap="round"/></g>
<path d="M862.73,462.94 C863.15,458.95 865.87,453.71 867.76,454.13 C869.65,454.55 869.86,461.89 874.06,465.46 C878.26,469.03 886.02,475.53 892.94,475.53 C899.86,475.53 911.19,468.61 915.60,465.46 C920.01,462.31 917.07,458.54 919.38,456.65 C921.69,454.76 926.72,455.18 929.45,454.13 C932.18,453.08 933.85,450.35 935.74,450.35 C937.63,450.35 940.99,450.98 940.78,454.13 C940.57,457.28 936.79,465.66 934.48,469.23 C932.17,472.80 928.40,471.54 926.93,475.53 C925.46,479.52 924.62,488.11 925.67,493.15 C926.72,498.19 931.62,500.29 933.22,505.74 C934.82,511.19 935.66,520.63 935.24,525.88 C934.82,531.12 943.62,535.32 930.70,537.21 C917.78,539.10 870.61,539.10 857.69,537.21 C844.77,535.32 853.58,530.71 853.16,525.88 C852.74,521.05 853.38,513.50 855.18,508.26 C856.98,503.01 862.31,499.45 863.99,494.41 C865.67,489.38 865.46,483.30 865.25,478.05 C865.04,472.81 862.31,466.93 862.73,462.94 Z" fill="#8f8f92"/>
<path d="M867.76,495.67 C872.79,493.99 884.13,500.70 892.94,500.70 C901.75,500.70 915.60,493.99 920.63,495.67 C925.66,497.35 923.99,507.00 923.15,510.78 C922.31,514.56 924.41,517.07 915.60,518.33 C906.79,519.59 879.09,519.59 870.28,518.33 C861.47,517.07 863.15,514.56 862.73,510.78 C862.31,507.00 862.73,497.35 867.76,495.67 Z" fill="#818184"/>
<path d="M867.76,480.56 C869.86,481.82 876.78,484.76 880.35,488.12 C883.92,491.48 887.48,496.92 889.16,500.70 C890.84,504.48 890.21,509.10 890.42,510.78" fill="none" stroke="#c9c9cc" stroke-width="1.3"/>
<path d="M919.38,480.56 C917.49,481.82 910.99,484.97 908.05,488.12 C905.11,491.27 902.80,495.67 901.75,499.45 C900.70,503.23 901.75,508.89 901.75,510.78" fill="none" stroke="#c9c9cc" stroke-width="1.3"/>
<path d="M863.99,495.17 L887.91,496.93" stroke="#b9b9bc" stroke-width="1"/>
<path d="M904.27,496.93 L924.41,495.17" stroke="#b9b9bc" stroke-width="1"/>
<path d="M855.18,513.29 C857.70,509.93 867.55,508.05 872.80,508.26 C878.04,508.47 885.81,512.03 886.65,514.55 C887.49,517.07 882.66,521.05 877.83,523.36 C873.00,525.67 861.47,530.08 857.69,528.40 C853.92,526.72 852.66,516.65 855.18,513.29 Z" fill="#98989b"/>
<path d="M905.53,514.55 C906.37,512.03 913.50,508.47 918.12,508.26 C922.74,508.05 930.91,510.14 933.22,513.29 C935.53,516.44 935.32,525.46 931.96,527.14 C928.60,528.82 917.49,525.46 913.08,523.36 C908.68,521.26 904.69,517.07 905.53,514.55 Z" fill="#98989b"/>
<rect x="888.41" y="510.78" width="14.6" height="26.43" fill="#f6f6f7"/>
<circle cx="881.61" cy="504.48" r="5" fill="#dfe9f2" stroke="#3f86c4" stroke-width="1.6"/>
<circle cx="881.61" cy="504.48" r="2" fill="#f7f7f7"/>
<circle cx="904.27" cy="505.24" r="5" fill="#dfe9f2" stroke="#3f86c4" stroke-width="1.6"/>
<circle cx="904.27" cy="505.24" r="2" fill="#f7f7f7"/>
<path d="M926.93,483.08 C927.98,483.92 932.80,486.65 933.22,488.12 C933.64,489.59 929.03,492.10 929.45,491.89 C929.87,491.68 934.48,487.07 935.74,486.86 C937.00,486.65 937.63,488.95 937.00,490.63 C936.37,492.31 932.80,495.88 931.96,496.93" fill="none" stroke="#3f93d0" stroke-width="1.3" opacity="0.9"/>
<path d="M871.54,445.32 C871.75,440.50 870.28,435.46 874.06,432.73 C877.84,430.00 887.49,428.74 894.20,428.95 C900.91,429.16 910.44,430.84 914.34,433.99 C918.24,437.14 917.40,443.00 917.61,447.83 C917.82,452.65 917.61,458.74 915.60,462.94 C913.59,467.14 909.10,470.91 905.53,473.01 C901.96,475.11 898.19,475.61 894.20,475.53 C890.21,475.45 885.18,474.82 881.61,472.51 C878.04,470.20 874.48,466.21 872.80,461.68 C871.12,457.15 871.33,450.14 871.54,445.32 Z" fill="#f6ddd2"/>
<path d="M870.28,449.09 C869.44,448.46 868.18,437.35 869.02,432.73 C869.86,428.12 873.64,424.76 875.32,421.40 C877.00,418.04 878.04,413.22 879.09,412.59 C880.14,411.96 879.51,418.46 881.61,417.62 C883.71,416.78 889.29,408.47 891.68,407.55 C894.07,406.63 893.23,411.03 895.96,412.08 C898.69,413.13 904.57,411.88 908.05,413.85 C911.53,415.82 914.85,419.94 916.86,423.92 C918.87,427.91 919.84,433.36 920.13,437.76 C920.42,442.16 919.59,449.51 918.62,450.35 C917.65,451.19 915.68,445.53 914.34,442.80 C913.00,440.07 914.13,435.88 910.56,433.99 C906.99,432.10 897.98,431.89 892.94,431.47 C887.91,431.05 883.50,430.63 880.35,431.47 C877.20,432.31 875.74,433.57 874.06,436.51 C872.38,439.45 871.12,449.72 870.28,449.09 Z" fill="#1d1d20"/>
<rect x="870.61" y="447.63" width="21" height="12.5" rx="3.5" fill="#fcfcfd"/>
<circle cx="884.11" cy="455.43" r="3.3" fill="#1e5bb0"/>
<circle cx="884.11" cy="455.43" r="1.5" fill="#0d2a6a"/>
<rect x="894.27" y="448.13" width="21" height="12.5" rx="3.5" fill="#fcfcfd"/>
<circle cx="902.77" cy="455.93" r="3.3" fill="#1e5bb0"/>
<circle cx="902.77" cy="455.93" r="1.5" fill="#0d2a6a"/>
<path d="M874.31,445.82 C875.53,445.57 879.09,444.23 881.61,444.31 C884.13,444.39 888.12,445.99 889.42,446.32" fill="none" stroke="#1d1d20" stroke-width="2.2" stroke-linecap="round"/>
<path d="M898.48,445.82 C899.74,445.61 903.51,444.39 906.03,444.56 C908.55,444.73 912.33,446.45 913.59,446.83" fill="none" stroke="#1d1d20" stroke-width="2.2" stroke-linecap="round"/>
<path d="M894.2,459.16 L894.95,462.94" stroke="#e9c3b6" stroke-width="1.4" stroke-linecap="round"/>
<g opacity="0.9" filter="url(#b3)"><path d="M961.78,491.33 C962.80,492.66 966.32,496.51 967.89,499.33 C969.46,502.14 970.57,505.81 971.22,508.22 C971.87,510.63 971.69,512.85 971.78,513.78" fill="none" stroke="#112f3d" stroke-width="8" stroke-linecap="round"/><path d="M970.67,485.44 C972.24,484.20 978.41,486.56 980.67,487.67 C982.93,488.78 982.55,491.98 984.22,492.11 C985.89,492.24 989.08,488.16 990.67,488.44 C992.26,488.72 993.93,491.45 993.78,493.78 C993.63,496.11 991.69,500.18 989.78,502.44 C987.87,504.70 984.68,507.11 982.33,507.33 C979.98,507.55 977.52,505.82 975.67,503.78 C973.82,501.74 972.05,498.17 971.22,495.11 C970.39,492.05 969.10,486.68 970.67,485.44 Z" fill="#112f3d"/><path d="M973.78,479.11 C975.02,479.06 978.92,478.04 981.22,478.78 C983.52,479.52 986.50,482.76 987.56,483.56" fill="none" stroke="#112f3d" stroke-width="5" stroke-linecap="round"/><path d="M964.56,505.44 C966.38,503.31 971.65,500.94 973.78,502.11 C975.91,503.28 977.70,509.90 977.33,512.44 C976.96,514.98 973.97,516.92 971.56,517.33 C969.15,517.74 964.06,516.87 962.89,514.89 C961.72,512.91 962.74,507.57 964.56,505.44 Z" fill="#112f3d"/><path d="M958.22,513.22 C959.09,514.02 961.46,516.70 963.44,518.00 C965.42,519.30 969.00,520.50 970.11,521.00" fill="none" stroke="#1f4a5a" stroke-width="2.6" stroke-linecap="round" opacity="0.8"/><path d="M978.22,513.22 C978.72,514.02 981.07,516.42 981.22,518.00 C981.37,519.58 979.46,521.89 979.11,522.67" fill="none" stroke="#112f3d" stroke-width="4" stroke-linecap="round"/><ellipse cx="989.56" cy="508.44" rx="5" ry="2.3" fill="#2b5f70" opacity="0.8" transform="rotate(-12 989.56 508.44)"/></g>
</svg>
</body>
</html>
